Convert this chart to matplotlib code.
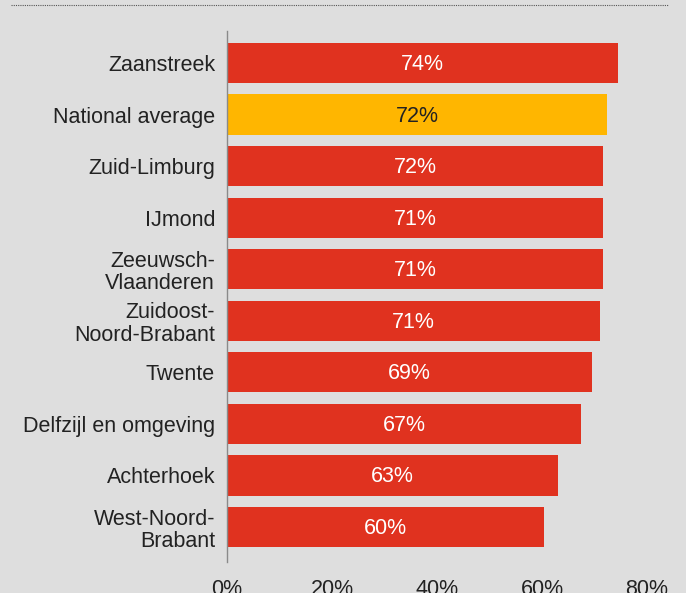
import matplotlib
matplotlib.use("Agg")
import matplotlib.pyplot as plt
from matplotlib.lines import Line2D

plt.rcParams['font.family'] = ['Liberation Sans', 'DejaVu Sans']

categories = ["Zaanstreek", "National average", "Zuid-Limburg", "IJmond",
              "Zeeuwsch-\nVlaanderen", "Zuidoost-\nNoord-Brabant", "Twente",
              "Delfzijl en omgeving", "Achterhoek", "West-Noord-\nBrabant"]
values = [74.4, 72.4, 71.6, 71.6, 71.6, 71.0, 69.6, 67.4, 63.0, 60.4]
labels = ["74%", "72%", "72%", "71%", "71%", "71%", "69%", "67%", "63%", "60%"]
highlight = "National average"
xticks = [0, 20, 40, 60, 80]
xticklabels = ["0%", "20%", "40%", "60%", "80%"]

BG = "#dedede"
RED = "#e0321f"
YEL = "#ffb600"
TXT = "#222222"
FS = 15.5

fig = plt.figure(figsize=(6.86, 5.93), dpi=100, facecolor=BG)
ax = fig.add_axes([227/686, 1-562/593, 420/686, 531/593])
ax.set_facecolor(BG)

pos = list(range(len(categories)))
colors = [YEL if c == highlight else RED for c in categories]
bars = ax.barh(pos, values, height=0.78, color=colors, zorder=2)
for b, c, lab in zip(bars, categories, labels):
    ax.text(b.get_width()/2, b.get_y()+b.get_height()/2 + 0.03, lab,
            ha="center", va="center", fontsize=FS,
            color=(TXT if c == highlight else "white"), zorder=3)

ax.set_xlim(0, 80)
ax.set_ylim(9 + 35/51.56, -32/51.56)
ax.set_yticks(pos)
ax.set_yticklabels(categories, fontsize=FS, color=TXT, linespacing=1.1)
ax.set_xticks(xticks)
ax.set_xticklabels(xticklabels, fontsize=FS, color=TXT)
ax.tick_params(axis="y", length=0, pad=8.6)
ax.tick_params(axis="x", length=0, pad=12)
for s in ["top", "right", "bottom"]:
    ax.spines[s].set_visible(False)
ax.spines["left"].set_color("#8a8a8a")
ax.spines["left"].set_linewidth(1.0)

fig.add_artist(Line2D([11/686, 668/686], [1-4.5/593, 1-4.5/593],
                      transform=fig.transFigure, color="#555555",
                      linestyle=(0, (1, 1)), linewidth=0.8))

fig.savefig("out.png", dpi=100, facecolor=BG)
